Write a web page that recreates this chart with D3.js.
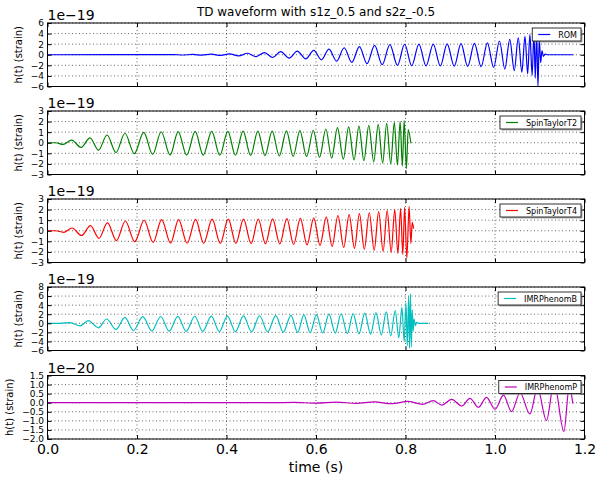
<!DOCTYPE html>
<html lang="en">
<meta charset="utf-8">
<head>
<script src="https://d3js.org/d3.v7.min.js"></script>
<style>
  body { margin: 0; background: #fff; }
  text { font-family: "DejaVu Sans", sans-serif; }
</style>
</head>
<body>
<script>
    var title = "TD waveform with s1z_0.5 and s2z_-0.5";
    var timeTicks = [0.0, 0.2, 0.4, 0.6, 0.8, 1.0, 1.2];

    // waveform extrema: [time (s), h(t) in units of the panel exponent]
    var romPeaks = [[0,0],[0.280,0.04],[0.302,-0.05],[0.324,0.06],[0.345,-0.08],[0.366,0.10],[0.387,-0.13],
        [0.407,0.17],[0.427,-0.22],[0.447,0.28],[0.466,-0.34],[0.485,0.42],[0.503,-0.52],[0.521,0.58],
        [0.540,-0.64],[0.558,0.70],[0.577,-0.78],[0.595,0.84],[0.612,-0.96],[0.629,1.06],[0.646,-1.20],
        [0.663,1.32],[0.680,-1.45],[0.697,1.55],[0.714,-1.68],[0.731,1.76],[0.748,-1.88],[0.765,1.92],
        [0.782,-2.02],[0.798,1.98],[0.814,-2.08],[0.830,2.00],[0.846,-2.10],[0.862,2.02],[0.878,-2.12],
        [0.893,2.05],[0.909,-2.15],[0.924,2.10],[0.939,-2.20],[0.954,2.15],[0.969,-2.25],[0.983,2.25],
        [0.997,-2.40],[1.010,2.60],[1.022,-2.70],[1.033,2.90],[1.043,-3.00],[1.052,3.20],[1.060,-3.30],
        [1.067,3.50],[1.073,-3.60],[1.078,3.80],[1.083,-3.90],[1.087,4.20],[1.090,-4.40],[1.093,4.30],
        [1.096,-6.00],[1.099,3.00],[1.102,-1.50],[1.105,0.80],[1.108,-0.30],[1.112,0.10],[1.118,0],[1.175,0]];

    var t2Peaks = [[0,0],[0.018,0],[0.035,-0.16],[0.054,0.25],[0.075,-0.44],[0.095,0.47],[0.114,-0.70],
        [0.133,0.73],[0.153,-0.92],[0.173,0.90],[0.194,-1.02],[0.215,0.98],[0.235,-1.10],[0.254,1.04],
        [0.274,-1.15],[0.292,1.05],[0.311,-1.17],[0.330,1.07],[0.348,-1.17],[0.367,1.08],[0.385,-1.18],
        [0.403,1.08],[0.420,-1.18],[0.437,1.09],[0.454,-1.20],[0.470,1.10],[0.486,-1.22],[0.502,1.10],
        [0.518,-1.24],[0.534,1.12],[0.549,-1.28],[0.564,1.14],[0.579,-1.32],[0.594,1.18],[0.608,-1.38],
        [0.622,1.30],[0.635,-1.45],[0.648,1.42],[0.661,-1.55],[0.673,1.50],[0.685,-1.62],[0.696,1.58],
        [0.707,-1.70],[0.718,1.65],[0.729,-1.80],[0.739,1.74],[0.749,-1.90],[0.758,1.83],[0.767,-2.00],
        [0.775,1.92],[0.782,-2.10],[0.788,2.00],[0.793,-2.20],[0.797,2.10],[0.802,-2.45],[0.806,1.25],
        [0.812,-0.05]];

    var t4Peaks = [[0,0],[0.018,0],[0.036,-0.15],[0.055,0.26],[0.076,-0.45],[0.096,0.48],[0.115,-0.72],
        [0.134,0.74],[0.154,-0.93],[0.174,0.92],[0.195,-1.03],[0.216,0.99],[0.236,-1.11],[0.255,1.05],
        [0.275,-1.16],[0.293,1.06],[0.312,-1.18],[0.331,1.08],[0.349,-1.18],[0.368,1.09],[0.386,-1.19],
        [0.404,1.09],[0.421,-1.19],[0.438,1.10],[0.455,-1.21],[0.471,1.11],[0.487,-1.23],[0.503,1.12],
        [0.519,-1.25],[0.535,1.14],[0.550,-1.30],[0.565,1.16],[0.580,-1.34],[0.595,1.22],[0.609,-1.40],
        [0.623,1.32],[0.636,-1.48],[0.649,1.44],[0.662,-1.58],[0.674,1.53],[0.686,-1.66],[0.697,1.62],
        [0.708,-1.75],[0.719,1.70],[0.730,-1.85],[0.740,1.80],[0.750,-1.95],[0.759,1.90],[0.768,-2.05],
        [0.776,2.00],[0.783,-2.15],[0.789,2.10],[0.794,-2.25],[0.798,2.20],[0.803,-2.60],[0.808,2.30],
        [0.812,-1.20],[0.815,0.80],[0.818,0.20]];

    var phenomBPeaks = [[0,0],[0.030,0],[0.050,0.15],[0.073,-0.57],[0.091,0.60],[0.114,-1.00],[0.132,0.95],
        [0.153,-1.35],[0.173,1.30],[0.192,-1.60],[0.213,1.45],[0.233,-1.70],[0.253,1.50],[0.272,-1.75],
        [0.291,1.52],[0.310,-1.78],[0.329,1.55],[0.347,-1.80],[0.366,1.58],[0.384,-1.82],[0.402,1.60],
        [0.420,-1.85],[0.438,1.62],[0.456,-1.88],[0.474,1.66],[0.492,-1.92],[0.510,1.70],[0.527,-1.96],
        [0.544,1.76],[0.559,-2.02],[0.573,1.84],[0.587,-2.08],[0.601,1.92],[0.615,-2.14],[0.629,2.00],
        [0.643,-2.20],[0.656,2.08],[0.670,-2.26],[0.683,2.15],[0.696,-2.32],[0.709,2.22],[0.722,-2.40],
        [0.734,2.35],[0.746,-2.55],[0.757,2.50],[0.767,-2.80],[0.777,2.80],[0.785,-3.20],[0.792,3.50],
        [0.797,-4.00],[0.801,4.50],[0.804,-5.00],[0.807,6.00],[0.809,-5.50],[0.811,6.50],[0.813,-5.20],
        [0.815,3.00],[0.817,-1.80],[0.819,1.00],[0.822,-0.50],[0.825,0.20],[0.829,0],[0.851,0]];

    var phenomPPeaks = [[0,0],[0.500,0],[0.550,0.02],[0.600,-0.025],[0.645,0.03],[0.690,-0.035],[0.730,0.045],
        [0.770,-0.055],[0.805,0.07],[0.838,-0.09],[0.862,0.11],[0.881,-0.13],[0.903,0.18],[0.926,-0.18],
        [0.944,0.24],[0.963,-0.25],[0.981,0.29],[1.000,-0.36],[1.019,0.42],[1.037,-0.49],[1.056,0.55],
        [1.078,-0.62],[1.095,0.80],[1.115,-0.98],[1.132,1.10],[1.154,-1.58],[1.166,0.90],[1.174,-0.05]];

    var names = ["ROM", "SpinTaylorT2", "SpinTaylorT4", "IMRPhenomB", "IMRPhenomP"];
    var colors = ["#0000ff", "#008000", "#ff0000", "#00bfbf", "#bf00bf"];
    var exps = ["1e\u221219", "1e\u221219", "1e\u221219", "1e\u221219", "1e\u221220"];
    var yTicks = [
        [-6, -4, -2, 0, 2, 4, 6],
        [-3, -2, -1, 0, 1, 2, 3],
        [-3, -2, -1, 0, 1, 2, 3],
        [-6, -4, -2, 0, 2, 4, 6, 8],
        [-2.0, -1.5, -1.0, -0.5, 0.0, 0.5, 1.0, 1.5]
    ];
    var series = [romPeaks, t2Peaks, t4Peaks, phenomBPeaks, phenomPPeaks];

    // layout
    var W = 595, H = 479;
    var xLeft = 47.5, xRight = 584.5;
    var panelTop = [23, 111, 199, 287, 375.5];
    var panelH = 63.5;

    var svg = d3.select("body").append("svg")
        .attr("width", W)
        .attr("height", H);

    var x = d3.scaleLinear().domain([0, 1.2]).range([xLeft, xRight]);

    svg.append("text")
        .attr("x", 316)
        .attr("y", 16)
        .attr("text-anchor", "middle")
        .style("font-size", "12px")
        .text(title);

    function drawPanel(i) {
        var pTop = panelTop[i];
        var pBot = pTop + panelH;
        var ticks = yTicks[i];
        var y = d3.scaleLinear()
            .domain([ticks[0], ticks[ticks.length - 1]])
            .range([pBot, pTop]);
        var g = svg.append("g");
        var fmt = i == 4 ? d3.format(".1f") : d3.format("d");

        // grid
        g.selectAll(".vg").data(timeTicks).enter().append("line")
            .attr("x1", function(d) { return x(d) })
            .attr("x2", function(d) { return x(d) })
            .attr("y1", pTop).attr("y2", pBot)
            .attr("stroke", "#000").attr("stroke-width", 0.6)
            .attr("stroke-dasharray", "1,2.5");
        g.selectAll(".hg").data(ticks).enter().append("line")
            .attr("x1", xLeft).attr("x2", xRight)
            .attr("y1", function(d) { return y(d) })
            .attr("y2", function(d) { return y(d) })
            .attr("stroke", "#000").attr("stroke-width", 0.6)
            .attr("stroke-dasharray", "1,2.5");

        // waveform
        g.append("path")
            .datum(series[i])
            .attr("fill", "none")
            .attr("stroke", colors[i])
            .attr("stroke-width", 1.2)
            .attr("d", d3.line()
                .x(function(d) { return x(d[0]) })
                .y(function(d) { return y(d[1]) })
                .curve(d3.curveMonotoneX));

        // axes, ticks pointing inward on all sides
        var leftAx = g.append("g")
            .attr("transform", "translate(" + xLeft + ",0)")
            .call(d3.axisLeft(y).tickValues(ticks).tickSize(-4).tickPadding(3.5).tickFormat(fmt));
        leftAx.attr("font-family", "DejaVu Sans").attr("font-size", 9);
        leftAx.select(".domain").remove();

        var rightAx = g.append("g")
            .attr("transform", "translate(" + xRight + ",0)")
            .call(d3.axisRight(y).tickValues(ticks).tickSize(-4).tickFormat(""));
        rightAx.select(".domain").remove();

        var topAx = g.append("g")
            .attr("transform", "translate(0," + pTop + ")")
            .call(d3.axisTop(x).tickValues(timeTicks).tickSize(-4).tickFormat(""));
        topAx.select(".domain").remove();

        var botAx = g.append("g")
            .attr("transform", "translate(0," + pBot + ")")
            .call(d3.axisBottom(x).tickValues(timeTicks).tickSize(-4).tickPadding(5)
                .tickFormat(i == 4 ? d3.format(".1f") : ""));
        botAx.attr("font-family", "DejaVu Sans").attr("font-size", 14);
        botAx.select(".domain").remove();

        g.append("rect")
            .attr("x", xLeft).attr("y", pTop)
            .attr("width", xRight - xLeft).attr("height", panelH)
            .attr("fill", "none").attr("stroke", "#000").attr("stroke-width", 1);

        // offset text
        g.append("text")
            .attr("x", xLeft)
            .attr("y", pTop - 3)
            .style("font-size", "14px")
            .text(exps[i]);

        // y label
        var lx = i == 4 ? 12.5 : 22;
        g.append("text")
            .attr("transform", "translate(" + lx + "," + (pTop + panelH / 2) + ") rotate(-90)")
            .attr("text-anchor", "middle")
            .style("font-size", "10px")
            .text("h(t) (strain)");

        // legend
        var leg = g.append("g");
        var lt = leg.append("text")
            .style("font-size", "8px")
            .text(names[i]);
        var tw = lt.node().getComputedTextLength();
        var bw = 6 + 12 + 8 + tw + 4;
        var bx = 581 - bw, by = pTop + 5, bh = 13;
        leg.insert("rect", "text")
            .attr("x", bx + 1.5).attr("y", by + 1.5)
            .attr("width", bw).attr("height", bh)
            .attr("fill", "#777").attr("opacity", 0.6);
        leg.insert("rect", "text")
            .attr("x", bx).attr("y", by)
            .attr("width", bw).attr("height", bh)
            .attr("fill", "#fff").attr("stroke", "#000").attr("stroke-width", 0.8);
        leg.append("line")
            .attr("x1", bx + 6).attr("x2", bx + 18)
            .attr("y1", by + bh / 2).attr("y2", by + bh / 2)
            .attr("stroke", colors[i]).attr("stroke-width", 1.2);
        lt.attr("x", bx + 26).attr("y", by + 9.5);
    }

    for (var i = 0; i < 5; i++) {
        drawPanel(i);
    }

    svg.append("text")
        .attr("x", 316)
        .attr("y", 472)
        .attr("text-anchor", "middle")
        .style("font-size", "14px")
        .text("time (s)");
</script>
</body>
</html>
